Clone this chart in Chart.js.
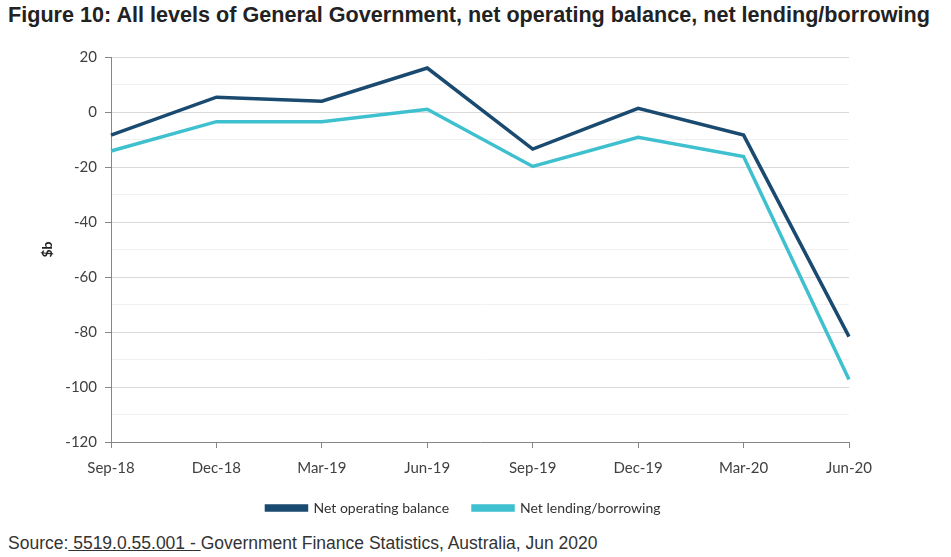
<!DOCTYPE html>
<html lang="en">
  <head>
    <meta charset="UTF-8" />
    <title>Figure 10</title>
    <script src="https://cdn.jsdelivr.net/npm/chart.js"></script>
    <style>
      body {
        margin: 0;
        background: #fff;
        width: 951px;
        height: 557px;
        position: relative;
        overflow: hidden;
      }
      .title {
        position: absolute;
        left: 8px;
        top: 2px;
        font-family: "Liberation Sans", Arial, sans-serif;
        font-weight: bold;
        font-size: 21.6px;
        color: #222;
        white-space: nowrap;
      }
      #chart-container {
        position: absolute;
        left: 0;
        top: 40px;
        width: 951px;
        height: 485px;
      }
      .source {
        position: absolute;
        left: 8px;
        top: 533px;
        font-family: "Liberation Sans", Arial, sans-serif;
        font-size: 17.5px;
        color: #333;
        white-space: nowrap;
      }
      .source a {
        color: #333;
        text-decoration: underline;
      }
    </style>
  </head>
  <body>
    <div id="chart-container">
      <canvas id="figChart"></canvas>
    </div>
    <div class="title">Figure 10: All levels of General Government, net operating balance, net lending/borrowing</div>
    <div class="source">Source:<a href="#"> 5519.0.55.001 - </a>Government Finance Statistics, Australia, Jun 2020</div>
    <script>
      // quarters and values ($b)
      const quarters = ["Sep-18", "Dec-18", "Mar-19", "Jun-19", "Sep-19", "Dec-19", "Mar-20", "Jun-20"];
      const netOperatingBalance = [-8.4, 5.4, 3.9, 16.0, -13.5, 1.3, -8.4, -81.7];
      const netLendingBorrowing = [-14.2, -3.5, -3.5, 1.0, -19.8, -9.2, -16.2, -97.3];
      const yMin = -120;
      const yMax = 20;

      const tickFont = { family: "Lato, 'Open Sans', sans-serif", size: 15 };
      const isMajor = (v) => v % 20 === 0;

      // legend sits under the plot area, a bit right of the canvas centre
      const legendShift = {
        id: "legendShift",
        afterLayout(chart) {
          chart.legend.left += 39;
          chart.legend.right += 39;
        },
      };

      const ctx = document.getElementById("figChart").getContext("2d");
      const figChart = new Chart(ctx, {
        type: "line",
        data: {
          labels: quarters,
          datasets: [
            {
              label: "Net operating balance",
              data: netOperatingBalance,
              borderColor: "#1a4a6f",
              backgroundColor: "#1a4a6f",
              borderWidth: 3.5,
              pointRadius: 0,
              tension: 0,
            },
            {
              label: "Net lending/borrowing",
              data: netLendingBorrowing,
              borderColor: "#3ec0cf",
              backgroundColor: "#3ec0cf",
              borderWidth: 3.5,
              pointRadius: 0,
              tension: 0,
            },
          ],
        },
        options: {
          responsive: true,
          maintainAspectRatio: false,
          animation: false,
          layout: { padding: { left: 0, right: 102, top: 17, bottom: 0 } },
          plugins: {
            title: { display: false },
            tooltip: { enabled: false },
            legend: {
              position: "bottom",
              labels: {
                boxWidth: 40,
                boxHeight: 4,
                padding: 24,
                color: "#333",
                font: { family: "Lato, 'Open Sans', sans-serif", size: 14 },
              },
            },
          },
          scales: {
            x: {
              offset: false,
              afterFit: (scale) => { scale.height = 35; },
              grid: {
                display: true,
                drawOnChartArea: false,
                tickLength: 6,
                color: "#868686",
              },
              border: { color: "#868686" },
              ticks: {
                padding: 11,
                color: "#404040",
                font: tickFont,
                maxRotation: 0,
              },
            },
            y: {
              min: yMin,
              max: yMax,
              afterFit: (scale) => { scale.width = 111; },
              title: {
                display: true,
                text: "$b",
                color: "#222",
                font: { family: "Lato, 'Open Sans', sans-serif", size: 14, weight: "bold" },
                padding: { top: 39 },
              },
              grid: {
                tickLength: 6,
                color: (c) => (isMajor(c.tick.value) ? "#d9d9d9" : "#f2f2f2"),
                tickColor: (c) => (isMajor(c.tick.value) ? "#868686" : "rgba(0,0,0,0)"),
              },
              border: { color: "#868686" },
              ticks: {
                stepSize: 10,
                padding: 8,
                color: "#404040",
                font: tickFont,
                callback: (v) => (isMajor(v) ? v : ""),
              },
            },
          },
        },
        plugins: [legendShift],
      });
    </script>
  </body>
</html>
